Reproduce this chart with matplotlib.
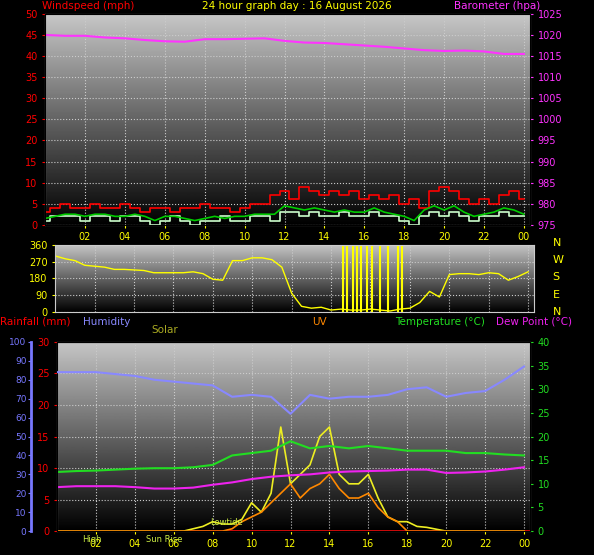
import matplotlib.pyplot as plt
import numpy as np

# ---- data ----
hours = list(range(25))
baro = [1020, 1019.8, 1019.8, 1019.4, 1019.2, 1018.8, 1018.5, 1018.4, 1019, 1019, 1019.1, 1019.2,
        1018.6, 1018.2, 1018.1, 1017.8, 1017.5, 1017.2, 1016.8, 1016.4, 1016.2, 1016.3, 1016.1, 1015.5, 1015.5]
gust = [3, 4, 5, 4, 4, 5, 4, 4, 5, 4, 3, 4, 4, 3, 4, 4, 5, 4, 4, 3, 4, 5, 5, 7, 8, 6, 9, 8, 7, 8, 7,
        8, 6, 7, 6, 7, 5, 6, 4, 8, 9, 8, 6, 5, 6, 5, 7, 8, 6]
wind_avg = [1.5, 2, 2.5, 2.5, 2, 2.5, 2.5, 2, 2, 2.5, 2, 1, 2, 2, 1.5, 1, 1.5, 2, 1.5, 2, 2, 2.5, 2.5,
            2.5, 4.5, 4, 3.5, 4, 3.5, 3, 3.5, 3, 3, 4, 3, 2.5, 2, 1, 3.5, 4.5, 3.5, 4.5, 3, 2, 2.5, 3, 4, 3.5, 2.5]
wind_spd = [1, 2, 2, 2, 1, 2, 2, 1, 2, 2, 1, 0, 1, 2, 1, 0, 1, 1, 2, 1, 1, 2, 2, 1, 3, 3, 2, 3, 2, 2, 3,
            2, 2, 3, 2, 2, 1, 0, 2, 3, 2, 3, 2, 1, 2, 2, 3, 2, 2]
wdir = [300, 285, 275, 250, 245, 240, 228, 228, 225, 222, 210, 210, 210, 210, 215, 205, 175, 170, 275,
        275, 290, 290, 280, 240, 100, 30, 20, 25, 10, 15, 10, 10, 15, 10, 5, 15, 20, 50, 110, 80, 200,
        205, 205, 200, 210, 205, 170, 190, 215]
wdir_spikes = [14.6, 14.8, 15.1, 15.3, 15.5, 15.8, 16.1, 16.5, 16.9, 17.4, 17.6]
humidity = [84, 84, 84, 83, 82, 80, 79, 78, 77, 71, 72, 71, 62, 72, 70, 71, 71, 72, 75, 76, 71, 73, 74, 80, 87]
temp = [12.5, 12.7, 12.8, 13, 13.2, 13.3, 13.3, 13.5, 14, 16, 16.5, 17, 19, 17.5, 18, 17.5, 18, 17.5,
        17, 17, 17, 16.5, 16.5, 16.2, 16]
dew = [9.3, 9.5, 9.5, 9.5, 9.3, 9, 9, 9.2, 9.8, 10.3, 11, 11.5, 11.8, 12, 12.4, 12.6, 12.7, 12.8, 13, 13,
       12.3, 12.4, 12.6, 13, 13.5]
solar = [0, 0, 0, 0, 0, 0, 0, 0, 0, 0, 0, 0, 0, 0, 0.5, 1, 2, 1.5, 1.5, 2.5, 6, 4, 8, 22, 10, 12, 14, 20,
         22, 12, 10, 10, 12, 7, 3, 2, 2, 1, 0.8, 0.4, 0, 0, 0, 0, 0, 0, 0, 0, 0]
uv = [0, 0, 0, 0, 0, 0, 0, 0, 0, 0, 0, 0, 0, 0, 0, 0, 0, 0, 0.5, 2, 3, 4, 6, 8, 10, 7, 9, 10, 12, 9, 7,
      7, 8, 5, 3, 2, 0, 0, 0, 0, 0, 0, 0, 0, 0, 0, 0, 0, 0]
xticks = [2, 4, 6, 8, 10, 12, 14, 16, 18, 20, 22, 24]
xlabels = ['02', '04', '06', '08', '10', '12', '14', '16', '18', '20', '22', '00']

half = np.linspace(0, 24, 49)
grad = np.linspace(0.78, 0.0, 256).reshape(-1, 1)


def style(ax, ylim):
    ax.set_xlim(0, 24.3)
    ax.set_ylim(*ylim)
    ax.imshow(grad, extent=[0, 24.3, ylim[0], ylim[1]], aspect='auto', cmap='gray', vmin=0, vmax=1, zorder=0)
    ax.grid(True, color='#cccccc', linestyle=':', linewidth=0.8)
    for s in ax.spines.values():
        s.set_color('#cccccc')
    ax.tick_params(labelsize=7, length=2)


fig = plt.figure(figsize=(5.94, 5.55), dpi=100, facecolor='black')

# top panel: wind + barometer
ax1 = fig.add_axes([0.076, 0.595, 0.816, 0.38])
style(ax1, (0, 50))
ax1.plot(half, gust, color='red', lw=1.2, drawstyle='steps-mid')
ax1.plot(half, wind_spd, color='#ccffcc', lw=1.2, drawstyle='steps-mid')
ax1.plot(half, wind_avg, color='#00cc00', lw=1.2)
ax1.set_yticks(range(0, 51, 5))
ax1.tick_params(axis='y', colors='red')
ax1.set_xticks(xticks, xlabels)
ax1.tick_params(axis='x', colors='yellow')
axb = ax1.twinx()
axb.set_ylim(975, 1025)
axb.plot(hours, baro, color='#ff33ff', lw=1.5)
axb.set_yticks(range(975, 1026, 5))
axb.tick_params(axis='y', colors='#ff33ff', labelsize=7, length=2)
fig.text(0.07, 0.998, 'Windspeed (mph)', color='red', fontsize=7.5, va='top', ha='left')
fig.text(0.5, 0.998, '24 hour graph day : 16 August 2026', color='yellow', fontsize=7.5, va='top', ha='center')
fig.text(0.91, 0.998, 'Barometer (hpa)', color='#ff33ff', fontsize=7.5, va='top', ha='right')

# middle panel: wind direction
ax2 = fig.add_axes([0.093, 0.438, 0.806, 0.121])
style(ax2, (0, 360))
ax2.plot(half, wdir, color='yellow', lw=1)
ax2.vlines(wdir_spikes, 0, 360, color='yellow', lw=1.5)
ax2.set_yticks([0, 90, 180, 270, 360])
ax2.set_xticks(xticks, [])
ax2.tick_params(axis='y', colors='yellow')
for i, c in enumerate(['N', 'W', 'S', 'E', 'N']):
    fig.text(0.93, 0.562 - i * 0.031, c, color='yellow', fontsize=8, va='center')

# bottom panel
ax3 = fig.add_axes([0.096, 0.043, 0.796, 0.341])
style(ax3, (0, 30))
ax3.set_yticks(range(0, 31, 5))
ax3.tick_params(axis='y', colors='red')
ax3.set_xticks(xticks, xlabels)
ax3.tick_params(axis='x', colors='yellow')
ax3.axhline(0.05, color='red', lw=2)
axt = ax3.twinx()
axt.set_ylim(0, 40)
axt.plot(half, solar, color='#eeee22', lw=1.2)
axt.plot(half, uv, color='#ff8800', lw=1.2)
axt.plot(hours, temp, color='#22dd22', lw=1.5)
axt.plot(hours, dew, color='#ee22ee', lw=1.5)
axt.set_yticks(range(0, 41, 5))
axt.tick_params(axis='y', colors='#22dd22', labelsize=7, length=2)
axh = ax3.twinx()
axh.set_ylim(0, 100)
axh.spines['right'].set_visible(False)
axh.spines['left'].set_visible(True)
axh.spines['left'].set_position(('outward', 19))
axh.spines['left'].set_color('#7777ff')
axh.spines['left'].set_linewidth(2)
axh.yaxis.set_ticks_position('left')
axh.yaxis.set_label_position('left')
axh.plot(hours, humidity, color='#8888ff', lw=1.5)
axh.set_yticks(range(0, 101, 10))
axh.tick_params(axis='y', colors='#7777ff', labelsize=6.5, length=2, pad=1)
for x, t in [(1.8, 'High'), (5.5, 'Sun Rise'), (8.7, 'Lowtide')]:
    axt.text(x, 1.2 if t == 'Lowtide' else -2.2, t, color='#ccee44', fontsize=6, ha='center')
fig.text(0.0, 0.42, 'Rainfall (mm)', color='red', fontsize=7.5, va='center')
fig.text(0.14, 0.42, 'Humidity', color='#8888ff', fontsize=7.5, va='center')
fig.text(0.255, 0.405, 'Solar', color='#aaaa22', fontsize=7.5, va='center')
fig.text(0.525, 0.42, 'UV', color='#ff8800', fontsize=7.5, va='center')
fig.text(0.665, 0.42, 'Temperature (°C)', color='#22dd22', fontsize=7.5, va='center')
fig.text(0.835, 0.42, 'Dew Point (°C)', color='#ee22ee', fontsize=7.5, va='center')

fig.savefig('out.png', dpi=100, facecolor='black')
